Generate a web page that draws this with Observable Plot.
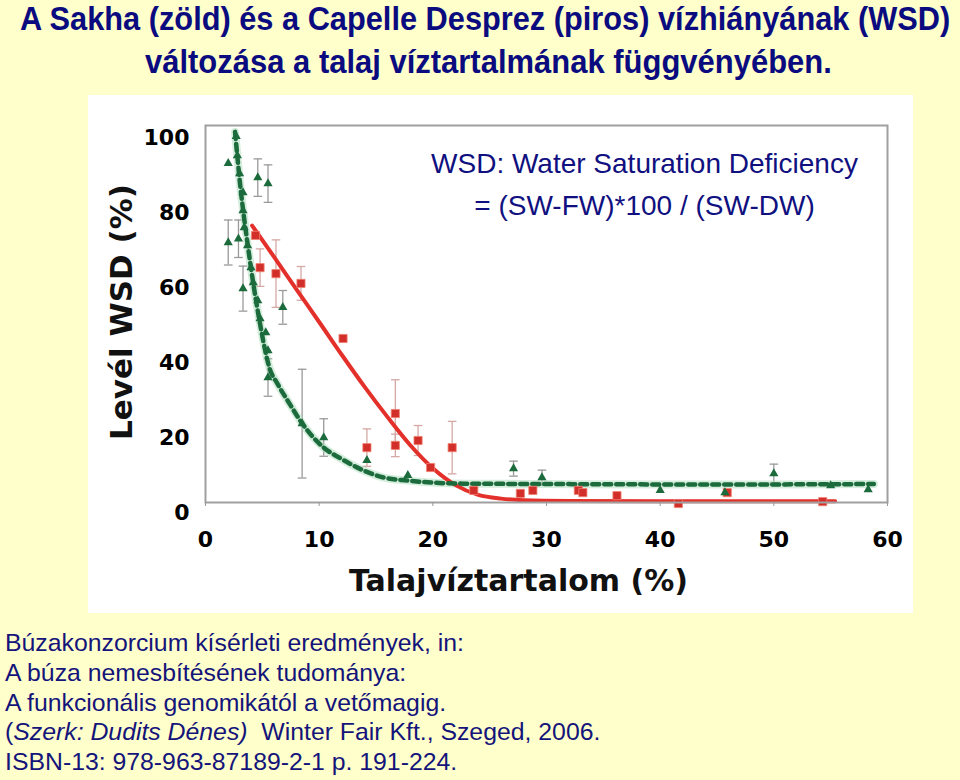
<!DOCTYPE html>
<html>
<head>
<meta charset="utf-8">
<script src="https://cdn.jsdelivr.net/npm/d3@7"></script>
<script src="https://cdn.jsdelivr.net/npm/@observablehq/plot@0.6"></script>
<style>
  html, body { margin: 0; padding: 0; }
  body { width: 960px; height: 780px; background: #FFFFCC; position: relative; overflow: hidden; font-family: "Liberation Sans", Arial, sans-serif; }
  .title { position: absolute; left: 0; width: 960px; height: 40px; color: #0b0b80; font-weight: bold; font-family: "Liberation Sans Narrow", "Arial Narrow", "Liberation Sans", sans-serif; white-space: nowrap; line-height: 38px; }
  .title span { position: absolute; top: 0; left: 0; transform-origin: 0 50%; }
  #chart { position: absolute; left: 88px; top: 95px; }
  .caption { position: absolute; left: 5px; top: 628px; color: #14147a; font-size: 24.8px; line-height: 29.8px; font-family: "Liberation Sans", Arial, sans-serif; white-space: nowrap; }
</style>
</head>
<body>
<div class="title" id="t1" style="top:0px;font-size:33px;"><span>A Sakha (zöld) és a Capelle Desprez (piros) vízhiányának (WSD)</span></div>
<div class="title" id="t2" style="top:43px;font-size:33px;"><span>változása a talaj víztartalmának függvényében.</span></div>
<div id="chart"></div>
<div class="caption">
Búzakonzorcium kísérleti eredmények, in:<br>
A búza nemesbítésének tudománya:<br>
A funkcionális genomikától a vetőmagig.<br>
(<i>Szerk: Dudits Dénes)</i>&nbsp; Winter Fair Kft., Szeged, 2006.<br>
ISBN-13: 978-963-87189-2-1 p. 191-224.
</div>
<script>
// ---- Data ----
const xTicks = [0, 10, 20, 30, 40, 50, 60];
const yTicks = [0, 20, 40, 60, 80, 100];
const xTitle = "Talajvíztartalom (%)";
const yTitle = "Levél WSD (%)";
const noteLines = ["WSD: Water Saturation Deficiency", "= (SW-FW)*100 / (SW-DW)"];

// Sakha (green) observations: soil water content, WSD, error half-width
const sakhaX   = [2.7, 2.0, 2.8, 3.0, 4.6, 5.5, 3.3, 3.3, 3.4, 2.0, 2.9, 3.7, 4.0, 3.3, 4.2, 4.6, 6.8, 4.8, 5.3, 5.5, 5.5, 8.5, 10.4, 14.2, 17.8, 27.1, 29.6, 40.0, 45.7, 50.0, 55.0, 58.3];
const sakhaY   = [100.3, 93.1, 95.2, 90.4, 89.3, 87.7, 85.3, 80.5, 76.0, 72.0, 73.0, 71.2, 65.3, 59.7, 61.3, 56.5, 54.7, 51.7, 48.0, 43.2, 36.0, 23.7, 20.0, 13.9, 9.9, 11.7, 9.3, 5.9, 5.3, 10.4, 7.2, 6.1];
const sakhaErr = [0, 0, 0, 0, 5, 5, 0, 0, 0, 6, 5, 0, 0, 6, 0, 0, 4.5, 0, 0, 0, 5, 14.5, 5, 0, 0, 2, 2, 0, 0, 2.5, 0, 0];

// Capelle Desprez (red) observations
const capelleX   = [4.4, 4.8, 6.2, 8.4, 12.1, 14.2, 16.7, 16.7, 18.7, 19.8, 21.7, 23.6, 27.7, 28.8, 32.8, 33.2, 36.2, 41.6, 45.9, 54.3];
const capelleY   = [73.9, 65.3, 63.7, 61.1, 46.4, 17.3, 26.4, 17.9, 19.2, 12.0, 17.3, 5.9, 5.1, 5.9, 5.9, 5.3, 4.5, 2.4, 5.3, 2.9];
const capelleErr = [0, 5, 9, 4.5, 0, 5, 9, 3, 4, 0, 7, 0, 0, 0, 0, 0, 0, 0, 0, 0];

// Fitted curves
const sakhaFitX = [2.6, 3.1, 3.7, 4.7, 5.7, 6.3, 7.5, 8.4, 10.4, 11.9, 13.9, 15.7, 17.8, 22.7, 30, 40, 50, 58.8];
const sakhaFitY = [101.5, 86, 71.7, 52, 37.9, 34.5, 28.5, 24.2, 17.3, 14.4, 11.2, 9.3, 8.5, 7.7, 7.6, 7.5, 7.5, 7.6];
const capelleFitX = [4.1, 6, 8, 10, 12, 14, 16, 18, 20, 22, 24, 26, 28, 32, 40, 55.4];
const capelleFitY = [76.5, 68.3, 59.5, 50.8, 42, 33.5, 25.5, 18, 11.8, 7.3, 4.7, 3.7, 3.3, 3.1, 3.0, 3.0];

// ---- Tables ----
const sakha = sakhaX.map((x, i) => ({x, y: sakhaY[i], e: sakhaErr[i]}));
const capelle = capelleX.map((x, i) => ({x, y: capelleY[i], e: capelleErr[i]}));
const sakhaFit = sakhaFitX.map((x, i) => ({x, y: sakhaFitY[i]}));
const capelleFit = capelleFitX.map((x, i) => ({x, y: capelleFitY[i]}));
const capW = 0.38;

const GREEN = "#1c6b3c", RED = "#e3302a";
const bold = "'DejaVu Sans', 'Liberation Sans', sans-serif";

function errorBars(data, color) {
  const d = data.filter(p => p.e > 0);
  return [
    Plot.ruleX(d, {x: "x", y1: p => p.y - p.e, y2: p => p.y + p.e, stroke: color, strokeWidth: 1.3}),
    Plot.link(d, {x1: p => p.x - capW, x2: p => p.x + capW, y1: p => p.y + p.e, y2: p => p.y + p.e, stroke: color, strokeWidth: 1.3}),
    Plot.link(d, {x1: p => p.x - capW, x2: p => p.x + capW, y1: p => p.y - p.e, y2: p => p.y - p.e, stroke: color, strokeWidth: 1.3})
  ];
}

const chart = Plot.plot({
  width: 825, height: 518,
  marginLeft: 117, marginRight: 26, marginTop: 30, marginBottom: 111,
  style: {background: "#ffffff", fontFamily: bold, overflow: "visible"},
  x: {domain: [0, 60]},
  y: {domain: [2.67, 103.2]},
  marks: [
    ...errorBars(sakha, "#9a9a9a"),
    ...errorBars(capelle, "#d4a8a4"),
    // fitted curves
    Plot.line(sakhaFit, {x: "x", y: "y", curve: "monotone-x", stroke: "#a9dcb9", strokeWidth: 8, strokeOpacity: 0.5}),
    Plot.line(capelleFit, {x: "x", y: "y", curve: "monotone-x", stroke: RED, strokeWidth: 4}),
    Plot.line(sakhaFit, {x: "x", y: "y", curve: "monotone-x", stroke: GREEN, strokeWidth: 4.5, strokeDasharray: "7,5"}),
    // points
    Plot.dot(capelle, {x: "x", y: "y", symbol: "square", r: 4.6, fill: "#d32f2a", stroke: "#f08070", strokeWidth: 0.8}),
    Plot.dot(sakha, {x: "x", y: "y", symbol: "triangle", r: 3.4, fill: GREEN}),
    // frame
    Plot.frame({stroke: "#a0a0a0", strokeWidth: 2}),
    // axes
    Plot.axisX({ticks: xTicks, tickSize: 4, tickPadding: 25, label: null, fontSize: 22, fontWeight: "bold", stroke: "#999"}),
    Plot.axisY({ticks: yTicks, tickSize: 0, tickPadding: 16, label: null, fontSize: 22, fontWeight: "bold"}),
    // axis titles
    Plot.text([xTitle], {frameAnchor: "bottom", text: d => d, dy: 88, dx: -28, fontSize: 30, fontWeight: "bold", fill: "#111"}),
    Plot.text([yTitle], {frameAnchor: "left", textAnchor: "middle", text: d => d, rotate: -90, dx: -83, dy: -2, fontSize: 31, fontWeight: "bold", fill: "#111"}),
    // note
    Plot.text([noteLines[0]], {frameAnchor: "top", text: d => d, dx: 98, dy: 28, fontSize: 28, fill: "#101080", fontFamily: "'Liberation Sans', Arial, sans-serif", fontWeight: "normal"}),
    Plot.text([noteLines[1]], {frameAnchor: "top", text: d => d, dx: 98, dy: 70, fontSize: 28, fill: "#101080", fontFamily: "'Liberation Sans', Arial, sans-serif", fontWeight: "normal"})
  ]
});
document.getElementById("chart").appendChild(chart);

// fit the title lines to the reference extents (left edge, width)
function fit(id, left, w) {
  const s = document.querySelector("#" + id + " span");
  const cw = s.offsetWidth;
  s.style.left = left + "px";
  s.style.transform = "scaleX(" + (w / cw) + ")";
}
fit("t1", 20, 930);
fit("t2", 145, 687);
</script>
</body>
</html>
